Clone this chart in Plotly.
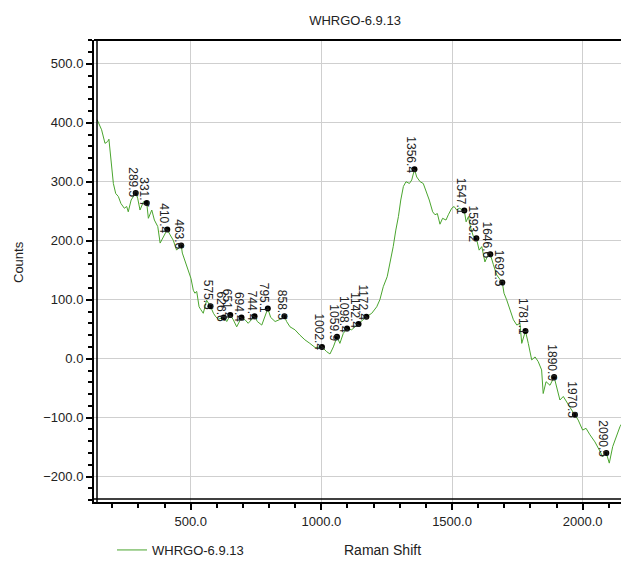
import plotly.graph_objects as go

# Raman spectrum trace
shift = [142, 149, 159, 172, 182, 187, 191, 198, 204, 213, 223, 233, 246, 255, 261, 272,
         289.5, 297, 306, 319, 331.7, 338, 351, 361, 374, 383, 395, 410.4, 421, 433, 446,
         463.6, 468, 481, 491, 501, 510, 516, 523, 532, 539, 548, 561, 575.5, 587, 596, 606,
         626.6, 638, 651.4, 663, 676, 694.4, 708, 720, 744.4, 755, 772, 795.1, 806, 823, 839,
         858.5, 867, 880, 899, 918, 937, 956, 976, 1002.4, 1020, 1033, 1046, 1059.9, 1071,
         1084, 1098.4, 1116, 1142.4, 1172.4, 1193, 1212, 1224, 1237, 1252, 1263, 1275, 1285,
         1295, 1304, 1314, 1324, 1337, 1346, 1356.4, 1365, 1378, 1390, 1400, 1413, 1426, 1435,
         1444, 1454, 1464, 1477, 1486, 1499, 1508, 1518, 1528, 1547.1, 1554, 1563, 1572, 1582,
         1593.2, 1604, 1614, 1626, 1635, 1646.6, 1658, 1671, 1692.5, 1699, 1709, 1722, 1735,
         1748, 1760, 1767, 1781.1, 1792, 1805, 1818, 1830, 1843, 1849, 1860, 1875, 1890.9,
         1903, 1913, 1926, 1941, 1958, 1970.5, 1983, 2000, 2013, 2028, 2047, 2064, 2077,
         2090.5, 2102, 2115, 2128, 2143, 2150]
counts = [405, 399, 388, 365, 368, 372, 354, 320, 297, 280, 275, 263, 255, 258, 249, 269,
          281, 272, 252, 266, 264, 238, 252, 235, 224, 196, 207, 219, 210, 201, 184,
          192, 179, 162, 150, 136, 116, 111, 114, 88, 83, 77, 99, 89, 77, 71, 67,
          70, 63, 74, 66, 54, 70, 66, 60, 72, 63, 57, 85, 70, 63, 66,
          72, 63, 54, 49, 40, 32, 26, 19, 20, 12, 8, 20, 37, 26,
          43, 51, 49, 59, 71, 77, 88, 100, 122, 139, 162, 190, 218,
          241, 269, 292, 300, 297, 303, 321, 308, 300, 297, 286, 269, 249, 244,
          246, 228, 238, 235, 244, 255, 258, 252, 255, 251, 232, 241, 221, 207,
          204, 184, 190, 164, 173, 177, 160, 142, 129, 111, 100, 83, 66,
          57, 60, 26, 47, 26, -2, 3, -5, -19, -59, -39, -45, -31,
          -53, -70, -64, -76, -87, -95, -104, -121, -118, -129, -141, -155, -166,
          -160, -177, -149, -132, -115, -110]

# Labelled peaks
peak_x = [289.5, 331.7, 410.4, 463.6, 575.5, 626.6, 651.4, 694.4, 744.4, 795.1, 858.5,
          1002.4, 1059.9, 1098.4, 1142.4, 1172.4, 1356.4, 1547.1, 1593.2, 1646.6, 1692.5,
          1781.1, 1890.9, 1970.5, 2090.5]
peak_y = [281, 264, 219, 192, 89, 70, 74, 70, 72, 85, 72,
          20, 37, 51, 59, 71, 321, 251, 204, 177, 129,
          47, -31, -95, -160]
peak_labels = ["289.5", "331.7", "410.4", "463.6", "575.5", "626.6", "651.4", "694.4",
               "744.4", "795.1", "858.5", "1002.4", "1059.9", "1098.4", "1142.4", "1172.4",
               "1356.4", "1547.1", "1593.2", "1646.6", "1692.5", "1781.1", "1890.9",
               "1970.5", "2090.5"]

series_name = "WHRGO-6.9.13"
x_ticks = [500, 1000, 1500, 2000]
y_ticks = [-200, -100, 0, 100, 200, 300, 400, 500]

FONT = "Liberation Sans, Arial, sans-serif"
W, H = 621, 566
ML, MR, MT, MB = 94, 0, 40, 64
PW, PH = W - ML - MR, H - MT - MB

fig = go.Figure()
fig.add_trace(go.Scatter(x=shift, y=counts, mode="lines", name=series_name,
                         line=dict(color="#4aa52e", width=1), showlegend=True))
fig.add_trace(go.Scatter(x=peak_x, y=peak_y, mode="markers", showlegend=False,
                         marker=dict(color="black", size=6)))

for px, py, lab in zip(peak_x, peak_y, peak_labels):
    fig.add_annotation(x=px, y=py, xref="x", yref="y", text=lab, showarrow=False,
                       textangle=90, xanchor="center", yanchor="bottom",
                       xshift=-3, yshift=-6,
                       font=dict(family=FONT, size=12, color="#222222"))

fig.update_layout(
    width=W, height=H,
    margin=dict(l=ML, r=MR, t=MT, b=MB, autoexpand=False),
    paper_bgcolor="white", plot_bgcolor="white",
    font=dict(family=FONT, size=13, color="#222222"),
    title=dict(text=series_name, x=355 / W, xref="container",
               xanchor="center", y=1 - 20 / H, yref="container", yanchor="middle",
               font=dict(family=FONT, size=13, color="#222222")),
    showlegend=True,
    legend=dict(x=112 / W, y=1 - 550 / H, xref="container", yref="container",
                xanchor="left", yanchor="middle", orientation="h",
                bgcolor="rgba(0,0,0,0)",
                font=dict(family=FONT, size=13, color="#222222"), itemwidth=30),
    xaxis=dict(range=[129.9, 2146.8], tickvals=x_ticks, tickformat=".1f",
               automargin=False,
               showgrid=True, gridcolor="#cfcfcf", gridwidth=1, zeroline=False,
               showline=True, linecolor="black", linewidth=2,
               ticks="outside", ticklen=6, tickwidth=1.5, tickcolor="black",
               minor=dict(dtick=100, tick0=0, ticks="outside", ticklen=4,
                          tickwidth=1.5, tickcolor="black", showgrid=False),
               tickfont=dict(family=FONT, size=13, color="#222222")),
    yaxis=dict(range=[-242.9, 540.2], tickvals=y_ticks, tickformat=".1f",
               automargin=False,
               showgrid=True, gridcolor="#cfcfcf", gridwidth=1, zeroline=False,
               showline=True, linecolor="black", linewidth=2,
               ticks="outside", ticklen=6, tickwidth=1.5, tickcolor="black",
               minor=dict(dtick=20, tick0=0, ticks="outside", ticklen=4,
                          tickwidth=1.5, tickcolor="black", showgrid=False),
               tickfont=dict(family=FONT, size=13, color="#222222")),
)

# inner frame lines (double-line look) and top border
fig.add_shape(type="line", xref="paper", yref="paper", x0=3 / PW, x1=3 / PW, y0=0, y1=1,
              line=dict(color="black", width=1.5))
fig.add_shape(type="line", xref="paper", yref="paper", x0=0, x1=1, y0=3 / PH, y1=3 / PH,
              line=dict(color="black", width=1.5))
fig.add_shape(type="line", xref="paper", yref="paper", x0=0, x1=1, y0=1, y1=1,
              line=dict(color="black", width=2))

# axis titles
fig.add_annotation(text="Raman Shift", xref="paper", yref="paper",
                   x=(382 - ML) / PW, y=-(550 - (MT + PH)) / PH, showarrow=False,
                   xanchor="center", yanchor="middle",
                   font=dict(family=FONT, size=14, color="#222222"))
fig.add_annotation(text="Counts", xref="paper", yref="paper",
                   x=-(ML - 18) / PW, y=1 - (262 - MT) / PH, showarrow=False,
                   textangle=-90, xanchor="center", yanchor="middle",
                   font=dict(family=FONT, size=13, color="#222222"))

fig.write_html(
    "out.html",
    config={"displayModeBar": False},
    post_script="document.body.style.margin='0';document.body.style.overflow='hidden';",
)
